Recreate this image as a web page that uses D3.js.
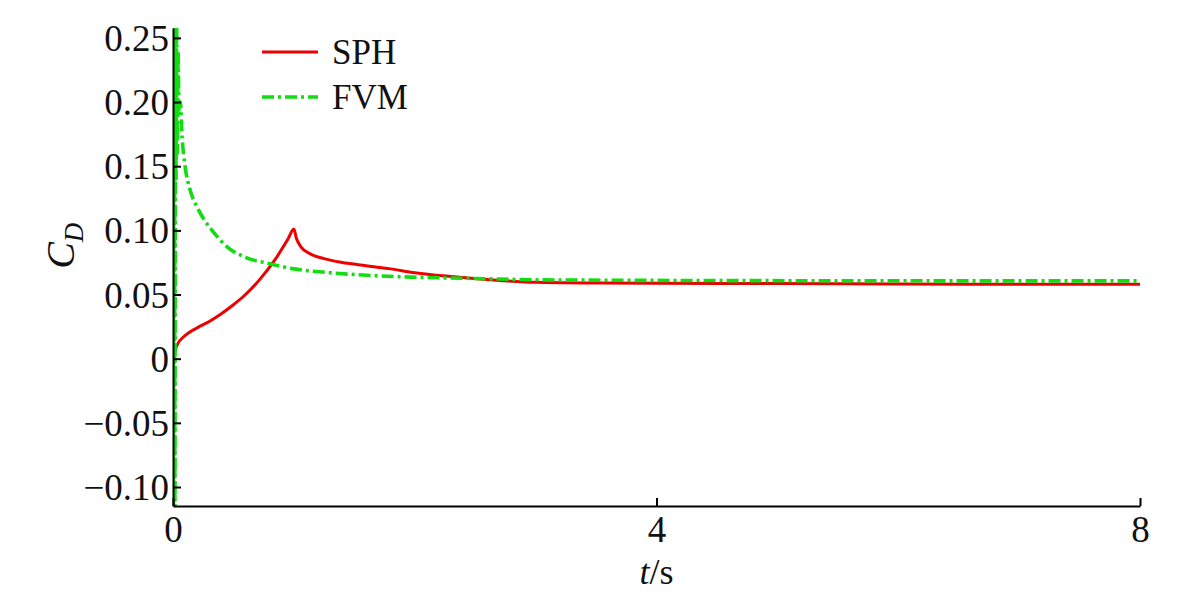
<!DOCTYPE html>
<html>
<head>
<meta charset="utf-8">
<script src="https://cdn.jsdelivr.net/npm/d3@7"></script>
<style>
  body { margin: 0; background: #fff; }
  text { font-family: "Liberation Serif", "Times New Roman", serif; }
</style>
</head>
<body>
<div id="chart"></div>
<script>
const width = 1200,
      height = 600;
const margin = { top: 28, right: 60, bottom: 94, left: 173 };

// SPH drag coefficient
const sphT = [0, 0.03, 0.1, 0.2, 0.3, 0.4, 0.5, 0.6, 0.72, 0.85, 0.95, 1.0, 1.02, 1.06, 1.13, 1.25, 1.4, 1.55, 1.8, 2.0, 2.3, 2.7, 3.0, 3.5, 4, 5, 6, 7, 8];
const sphCd = [0, 0.01, 0.018, 0.024, 0.029, 0.035, 0.042, 0.05, 0.062, 0.078, 0.093, 0.101, 0.094, 0.087, 0.082, 0.078, 0.075, 0.073, 0.070, 0.067, 0.064, 0.061, 0.0595, 0.059, 0.0588, 0.0585, 0.0582, 0.058, 0.058];

// FVM drag coefficient (initial oscillation is clipped by the axes)
const fvmT = [0, 0.003, 0.006, 0.009, 0.012, 0.016, 0.02, 0.025, 0.03, 0.036, 0.042, 0.05, 0.06, 0.075, 0.1, 0.14, 0.2, 0.26, 0.34, 0.45, 0.6, 0.8, 1.0, 1.3, 1.6, 2.0, 2.5, 3.0, 4, 6, 8];
const fvmCd = [0.27, -0.13, 0.27, -0.13, 0.27, -0.13, 0.27, 0.14, 0.26, 0.16, 0.24, 0.19, 0.2, 0.173, 0.15, 0.132, 0.118, 0.108, 0.098, 0.087, 0.079, 0.074, 0.070, 0.067, 0.065, 0.0635, 0.0625, 0.0615, 0.061, 0.0607, 0.0606];

const xTicks = [0, 4, 8];
const yTicks = [-0.10, -0.05, 0, 0.05, 0.10, 0.15, 0.20, 0.25];

const series = [
  { name: "SPH", t: sphT, v: sphCd, color: "#ec0000", width: 3, dash: null },
  { name: "FVM", t: fvmT, v: fvmCd, color: "#11dd11", width: 3.6, dash: "12,4,3,4" }
];

const svg = d3.select("#chart")
  .append("svg")
  .attr("width", width)
  .attr("height", height);

const xScale = d3.scaleLinear()
  .domain([0, 8])
  .range([margin.left, width - margin.right]);
const yScale = d3.scaleLinear()
  .domain([-0.1148, 0.2577])
  .range([height - margin.bottom, margin.top]);

svg.append("clipPath")
  .attr("id", "plot-clip")
  .append("rect")
  .attr("x", margin.left)
  .attr("y", margin.top)
  .attr("width", width - margin.left - margin.right)
  .attr("height", height - margin.top - margin.bottom);

const line = d3.line()
  .curve(d3.curveMonotoneX)
  .x(d => xScale(d[0]))
  .y(d => yScale(d[1]));

series.forEach(s => {
  svg.append("path")
    .datum(s.t.map((t, i) => [t, s.v[i]]))
    .attr("clip-path", "url(#plot-clip)")
    .attr("fill", "none")
    .attr("stroke", s.color)
    .attr("stroke-width", s.width)
    .attr("stroke-dasharray", s.dash)
    .attr("stroke-linejoin", "round")
    .attr("d", line);
});

const fmt = d => d === 0 ? "0" : d3.format(".2f")(d).replace("-", "\u2212");

const xAxis = svg.append("g")
  .attr("transform", `translate(0, ${height - margin.bottom})`)
  .call(d3.axisBottom(xScale).tickValues(xTicks).tickSizeInner(-8).tickSizeOuter(0).tickPadding(10).tickFormat(d3.format("d")));
const yAxis = svg.append("g")
  .attr("transform", `translate(${margin.left}, 0)`)
  .call(d3.axisLeft(yScale).tickValues(yTicks).tickSizeInner(-8).tickSizeOuter(0).tickPadding(4).tickFormat(fmt));

[xAxis, yAxis].forEach(ax => {
  ax.attr("font-family", null);
  ax.select(".domain").attr("stroke", "#000").attr("stroke-width", 2);
  ax.selectAll(".tick line").attr("stroke", "#000").attr("stroke-width", 2);
  ax.selectAll(".tick text")
    .attr("fill", "#111")
    .style("font-size", "37px")
    .style("font-family", "'Liberation Serif', serif");
});
xAxis.selectAll(".tick text").attr("dy", "0.7em");
yAxis.selectAll(".tick text").attr("dy", "0.34em");

// axis titles
const xt = svg.append("text")
  .attr("x", xScale(4))
  .attr("y", 584)
  .attr("text-anchor", "middle")
  .style("font-size", "36px")
  .attr("fill", "#111");
xt.append("tspan").style("font-style", "italic").text("t");
xt.append("tspan").text("/s");

const yt = svg.append("text")
  .attr("transform", `translate(74, ${yScale(0.088)}) rotate(-90)`)
  .attr("text-anchor", "middle")
  .style("font-size", "40px")
  .attr("fill", "#111");
yt.append("tspan").style("font-style", "italic").text("C");
yt.append("tspan").style("font-style", "italic").style("font-size", "27px").attr("dy", 9).text("D");

// legend
const legend = svg.append("g").attr("transform", "translate(262, 52)");
series.forEach((s, i) => {
  const row = legend.append("g").attr("transform", `translate(0, ${i * 45})`);
  row.append("line")
    .attr("x1", 0).attr("x2", 56)
    .attr("stroke", s.color)
    .attr("stroke-width", s.width)
    .attr("stroke-dasharray", s.dash);
  row.append("text")
    .attr("x", 70)
    .attr("dy", "0.35em")
    .style("font-size", "35px")
    .attr("fill", "#111")
    .text(s.name);
});
</script>
</body>
</html>
